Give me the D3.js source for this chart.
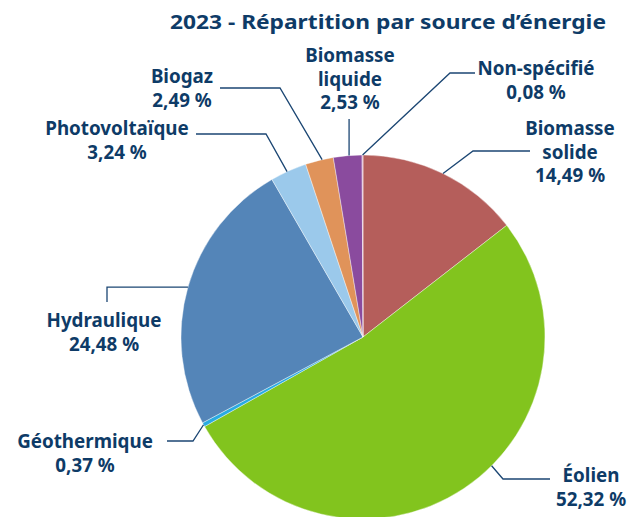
<!DOCTYPE html>
<html>
<head>
<meta charset="utf-8">
<title>2023 - Répartition par source d'énergie</title>
<style>
  body { margin: 0; background: #fff; }
  text { font-family: "Noto Sans", sans-serif; font-weight: 700; fill: #0e3b67; }
</style>
</head>
<body>
<div id="container"></div>
<script src="https://cdn.jsdelivr.net/npm/d3@7"></script>
<script>
// données (ordre horaire depuis midi)
var categories = ['Biomasse solide', 'Éolien', 'Géothermique', 'Hydraulique', 'Photovoltaïque', 'Biogaz', 'Biomasse liquide', 'Non-spécifié']
var values = [14.49, 52.32, 0.37, 24.48, 3.24, 2.49, 2.53, 0.08]
var labelNames = [['Biomasse', 'solide'], ['Éolien'], ['Géothermique'], ['Hydraulique'], ['Photovoltaïque'], ['Biogaz'], ['Biomasse', 'liquide'], ['Non-spécifié']]
var colors = ['#b55e5b', '#82c41e', '#29abe2', '#5485b8', '#9bc9eb', '#e0935a', '#8a4b9e', '#d9a3c4']
var title = '2023 - Répartition par source d\u2019énergie'

var width = 628
var height = 517
var cx = 363, cy = 337, radius = 182

// placement des étiquettes : x centre, ligne de base, fraction dans la part, tracé du trait
var layout = [
  { x: 570, y: 135, t: 0.5, leader: [[530, 151], [473, 151]] },
  { x: 591, y: 482, t: 0.44, leader: [[550, 479], [503, 479]] },
  { x: 85, y: 448, t: 0.5, leader: [[167, 441], [193, 441]] },
  { x: 104, y: 327, t: 0.5, leader: [[107, 302], [107, null]] },
  { x: 117, y: 135, t: 0.46, leader: [[196, 134], [266, 134]] },
  { x: 182, y: 83, t: 0.6, leader: [[220, 88], [280, 88]] },
  { x: 350, y: 62, t: 0.55, leader: [[null, 119]] },
  { x: 536, y: 75, t: 0.5, leader: [[475, 73], [450, 73]] }
]

var svg = d3.select('#container')
  .append('svg')
  .attr('width', width)
  .attr('height', height)

var titleText = svg.append('text')
  .attr('x', 170)
  .attr('y', 28.5)
  .style('font-size', '20px')
  .text(title)
var tl = titleText.node().getComputedTextLength()
if (Math.abs(tl - 436) > 4) {
  titleText.attr('textLength', 436).attr('lengthAdjust', 'spacingAndGlyphs')
}

var data = categories.map(function (c, i) { return { name: c, value: values[i], lines: labelNames[i], color: colors[i], lay: layout[i] } })

var pie = d3.pie().sort(null).value(function (d) { return d.value })
var arc = d3.arc().innerRadius(0).outerRadius(radius)
var arcs = pie(data)

var g = svg.append('g').attr('transform', 'translate(' + cx + ',' + cy + ')')

g.selectAll('path')
  .data(arcs)
  .enter()
  .append('path')
  .attr('d', arc)
  .style('fill', function (d) { return d.data.color })
  .style('stroke', '#fff')
  .style('stroke-width', 0.4)

var fmt = d3.format('.2f')

// traits de rappel
var line = d3.line()
arcs.forEach(function (d) {
  var a = d.startAngle + (d.endAngle - d.startAngle) * d.data.lay.t
  var px = cx + radius * Math.sin(a)
  var py = cy - radius * Math.cos(a)
  var pts = d.data.lay.leader.map(function (p) {
    return [p[0] == null ? px : p[0], p[1] == null ? py : p[1]]
  })
  pts.push([px, py])
  svg.append('path')
    .attr('d', line(pts))
    .style('fill', 'none')
    .style('stroke', '#1b4673')
    .style('stroke-width', 1.3)
})

// étiquettes
var labels = svg.selectAll('.label')
  .data(arcs)
  .enter()
  .append('text')
  .attr('class', 'label')
  .attr('text-anchor', 'middle')
  .style('font-size', '18.8px')

labels.each(function (d) {
  var el = d3.select(this)
  var lines = d.data.lines.concat([fmt(d.data.value).replace('.', ',') + ' %'])
  lines.forEach(function (s, i) {
    el.append('tspan')
      .attr('x', d.data.lay.x)
      .attr('y', d.data.lay.y + i * 23.7)
      .text(s)
  })
})
</script>
</body>
</html>
